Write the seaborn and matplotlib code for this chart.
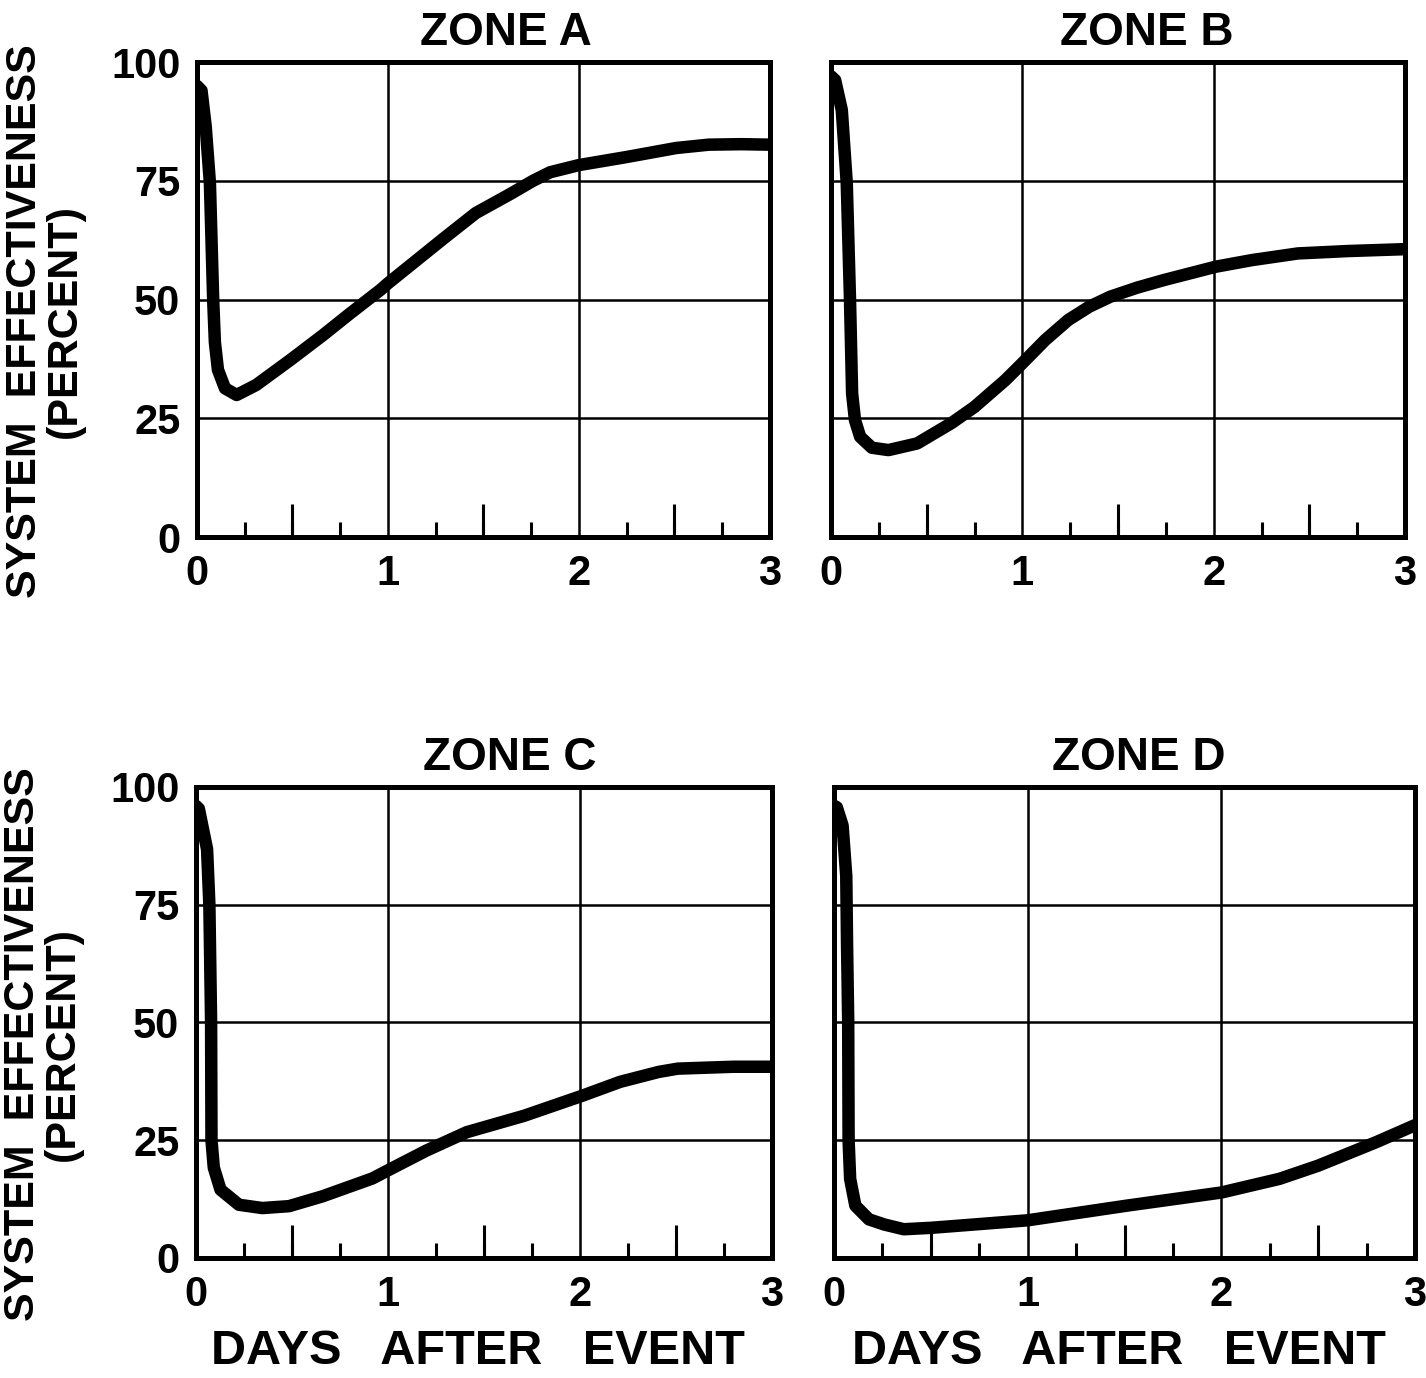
import numpy as np
import pandas as pd
import matplotlib
matplotlib.use("Agg")
import matplotlib.pyplot as plt
import seaborn as sns

# values (days after event, percent effectiveness)
zones = ["ZONE A", "ZONE B", "ZONE C", "ZONE D"]

days_a = [0.0, 0.024, 0.046, 0.068, 0.085, 0.094, 0.11, 0.147, 0.208, 0.31, 0.49,
          0.66, 0.8, 0.96, 1.0, 1.29, 1.46, 1.64, 1.76, 1.85, 2.0, 2.25, 2.51, 2.68,
          2.85, 3.0]
eff_a = [95.0, 94.0, 86.4, 74.5, 50.0, 41.0, 35.2, 31.3, 29.9, 32.0, 37.3,
         42.5, 47.0, 52.0, 53.4, 62.8, 68.2, 72.2, 75.0, 76.8, 78.3, 80.0, 81.9, 82.6,
         82.7, 82.6]

days_b = [0.0, 0.021, 0.056, 0.082, 0.099, 0.11, 0.125, 0.152, 0.213, 0.3, 0.45,
          0.63, 0.75, 0.91, 1.0, 1.12, 1.24, 1.35, 1.46, 1.6, 1.74, 2.01, 2.2, 2.44,
          2.7, 3.0]
eff_b = [97.0, 96.2, 89.9, 74.5, 49.9, 30.2, 24.6, 21.1, 18.8, 18.3, 19.7,
         24.0, 27.4, 33.0, 36.6, 41.5, 45.7, 48.5, 50.6, 52.5, 54.1, 56.9, 58.3, 59.7,
         60.2, 60.6]

days_c = [0.0, 0.015, 0.058, 0.07, 0.079, 0.081, 0.093, 0.128, 0.224, 0.346, 0.485,
          0.66, 0.92, 1.0, 1.2, 1.41, 1.71, 2.016, 2.21, 2.41, 2.51, 2.8, 3.0]
eff_c = [96.0, 95.4, 86.8, 75.0, 50.0, 25.0, 19.2, 14.5, 11.3, 10.6, 11.0,
         13.1, 16.9, 18.6, 22.8, 26.7, 30.2, 34.5, 37.4, 39.5, 40.2, 40.6, 40.6]

days_d = [0.0, 0.014, 0.044, 0.063, 0.067, 0.073, 0.075, 0.083, 0.11, 0.18, 0.26,
          0.36, 0.5, 0.72, 1.0, 1.51, 2.0, 2.3, 2.5, 2.8, 3.0]
eff_d = [96.0, 95.7, 91.8, 81.1, 66.8, 50.0, 25.1, 16.8, 11.1, 8.2, 7.1,
         6.1, 6.4, 7.1, 8.0, 11.1, 13.9, 16.8, 19.6, 24.6, 28.2]

x_ticks = [0, 1, 2, 3]
y_ticks = [0, 25, 50, 75, 100]
quarter_ticks = [0.25, 0.5, 0.75, 1.25, 1.5, 1.75, 2.25, 2.5, 2.75]
half_ticks = [0.5, 1.5, 2.5]

frames = []
for z, d, e in zip(zones, [days_a, days_b, days_c, days_d], [eff_a, eff_b, eff_c, eff_d]):
    frames.append(pd.DataFrame({"zone": z, "days": d, "eff": e}))
df = pd.concat(frames, ignore_index=True)

sns.set_style("white")
plt.rcParams["font.family"] = ["Liberation Sans", "DejaVu Sans"]
plt.rcParams["font.weight"] = "bold"
plt.rcParams["text.color"] = "black"
plt.rcParams["xtick.color"] = "black"
plt.rcParams["ytick.color"] = "black"
plt.rcParams["axes.labelcolor"] = "black"

fig = plt.figure(figsize=(14.26, 13.78), dpi=100)

positions = {
    "ZONE A": [0.1381, 0.6103, 0.4018, 0.3447],
    "ZONE B": [0.5828, 0.6103, 0.4025, 0.3447],
    "ZONE C": [0.1374, 0.0871, 0.4039, 0.3418],
    "ZONE D": [0.5849, 0.0871, 0.4074, 0.3418],
}
title_x = {"ZONE A": 0.54, "ZONE B": 0.55, "ZONE C": 0.545, "ZONE D": 0.525}

for z in zones:
    ax = fig.add_axes(positions[z])
    sns.lineplot(data=df[df["zone"] == z], x="days", y="eff", ax=ax,
                 color="black", linewidth=9, estimator=None,
                 solid_capstyle="round", solid_joinstyle="round")
    ax.set_xlim(0, 3)
    ax.set_ylim(0, 100)
    ax.set_xticks(x_ticks)
    ax.set_yticks(y_ticks)
    ax.set_xticks(quarter_ticks, minor=True)
    ax.grid(True, which="major", color="black", linewidth=1.8)
    ax.tick_params(which="major", length=0, labelsize=30, pad=12)
    ax.tick_params(axis="x", which="minor", direction="in", length=11,
                   width=2.2, color="black", bottom=True)
    # longer half-day ticks
    ax.vlines(half_ticks, 0, 7, color="black", linewidth=2.2)
    for s in ax.spines.values():
        s.set_color("black")
        s.set_linewidth(3.6)
    ax.set_title(z, fontsize=33, fontweight="bold", x=title_x[z], pad=12)
    ax.set_xlabel("")
    ax.set_ylabel("")
    if z in ("ZONE B", "ZONE D"):
        ax.tick_params(labelleft=False)
    else:
        ax.set_ylabel("SYSTEM  EFFECTIVENESS\n(PERCENT)", fontsize=31,
                      fontweight="bold", linespacing=1.0, va="center")
        ax.yaxis.set_label_coords(-0.265, 0.455)
    if z in ("ZONE C", "ZONE D"):
        ax.set_xlabel("DAYS   AFTER   EVENT", fontsize=35, fontweight="bold")
        ax.xaxis.set_label_coords(0.49, -0.15)

fig.savefig("out.png", dpi=100)
